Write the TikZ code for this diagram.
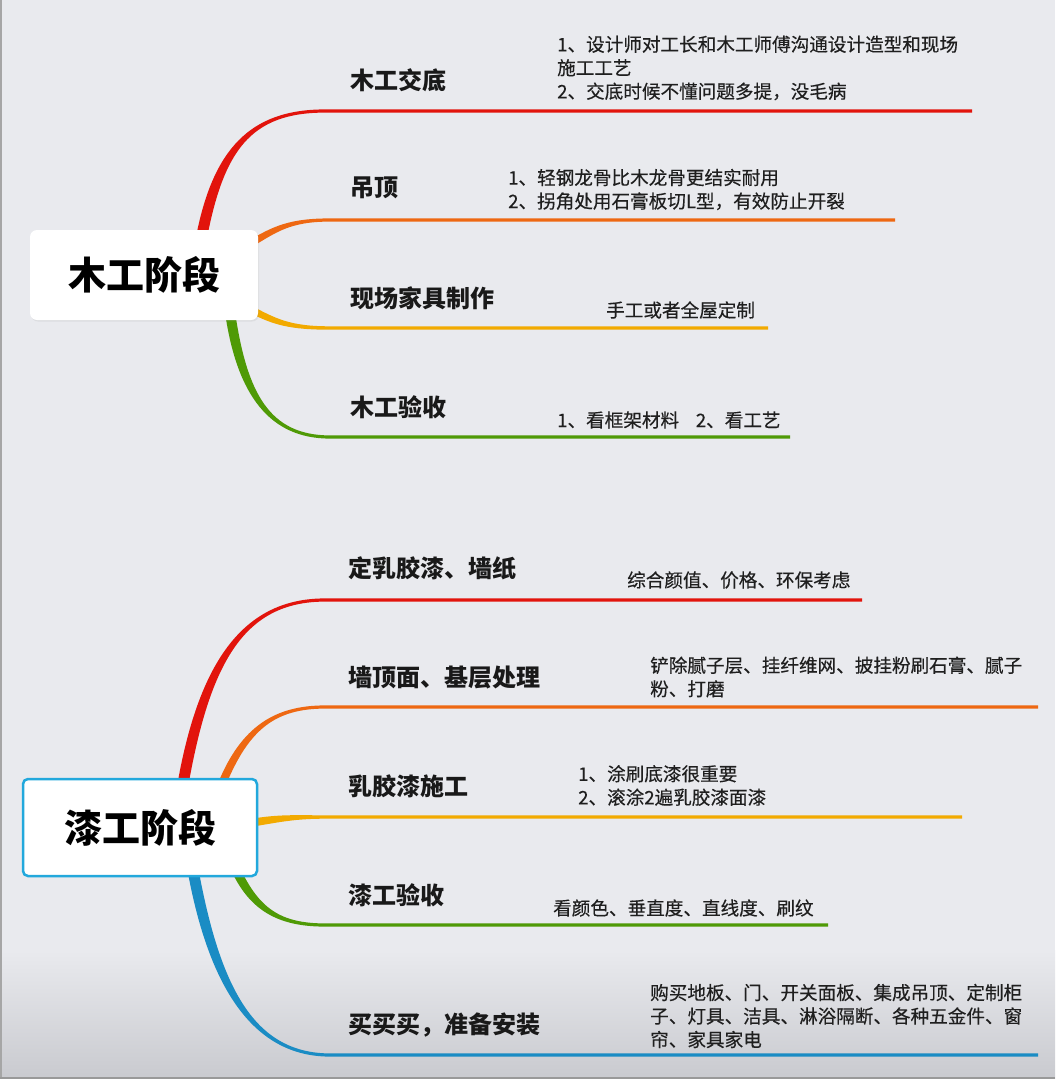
\documentclass[tikz,border=0pt]{standalone}
\usepackage{fontspec}
\setmainfont{Noto Sans CJK SC}
\newfontfamily\detfont{Noto Sans CJK SC}[FakeBold=0.35]
\usetikzlibrary{calc,shadows}
\definecolor{bg}{HTML}{E9EAEE}
\definecolor{bgdark}{HTML}{C9CACF}
\definecolor{cred}{HTML}{E2140C}
\definecolor{corange}{HTML}{EE6812}
\definecolor{cyellow}{HTML}{F2AA00}
\definecolor{cgreen}{HTML}{4F9A06}
\definecolor{cblue}{HTML}{1A8CC4}
\definecolor{ccyan}{HTML}{22A8DC}
% tapered branch: #1 colour, #2 start, #3 ctrl1, #4 ctrl2, #5 bend, #6 end, #7 half width at start, #8 half width at end
\newcommand\taperbranch[8]{%
  \fill[#1] ($(#2)!#7!90:(#3)$) .. controls ($(#3)!#7!-90:(#2)$) and ($(#4)!#8!90:(#5)$) .. ($(#5)!#8!90:(#6)$)
    -- ($(#6)!#8!-90:(#5)$) -- ($(#6)!#8!90:(#5)$) -- ($(#5)!#8!-90:(#6)$)
    .. controls ($(#4)!#8!-90:(#5)$) and ($(#3)!#7!90:(#2)$) .. ($(#2)!#7!-90:(#3)$) -- cycle;}
\begin{document}
\begin{tikzpicture}[x=1pt,y=-1pt,
  rootbox/.style={fill=white, rounded corners=7pt, inner sep=0pt, font=\fontsize{38}{44}\selectfont\bfseries},
  lbl/.style={anchor=west, inner sep=0pt, font=\fontsize{24}{28}\selectfont\bfseries, text=black!90},
  det/.style={anchor=west, inner sep=0pt, align=left, font=\detfont\fontsize{18.6}{23.5}\selectfont, text=black!88}]
\useasboundingbox (0,0) rectangle (1055,1079);
\fill[bg] (0,0) rectangle (1055,1079);
\shade[top color=bg, bottom color=bgdark] (0,950) rectangle (1055,1079);
\draw[gray!70, line width=1.5pt] (1,0) -- (1,1079);
\draw[gray!80, line width=1.5pt] (0,1078) -- (1055,1078);

% ---------- group 1 coordinates ----------
\coordinate (a1s) at (201,240); \coordinate (a1c) at (218,150); \coordinate (a1d) at (250,111); \coordinate (a1p) at (325,111); \coordinate (a1e) at (972,111);
\coordinate (a2s) at (250,244); \coordinate (a2c) at (275,229); \coordinate (a2d) at (290,220); \coordinate (a2p) at (330,220); \coordinate (a2e) at (895,220);
\coordinate (a3s) at (250,309); \coordinate (a3c) at (275,322); \coordinate (a3d) at (290,328); \coordinate (a3p) at (330,328); \coordinate (a3e) at (768,328);
\coordinate (a4s) at (230,312); \coordinate (a4c) at (242,395); \coordinate (a4d) at (270,437); \coordinate (a4p) at (330,437); \coordinate (a4e) at (790,437);

\taperbranch{cred}{a1s}{a1c}{a1d}{a1p}{a1e}{5.5pt}{1.6pt}
\taperbranch{corange}{a2s}{a2c}{a2d}{a2p}{a2e}{3.5pt}{1.6pt}
\taperbranch{cyellow}{a3s}{a3c}{a3d}{a3p}{a3e}{3.5pt}{1.7pt}
\taperbranch{cgreen}{a4s}{a4c}{a4d}{a4p}{a4e}{5pt}{1.6pt}

% ---------- group 2 coordinates ----------
\coordinate (b1s) at (183,784); \coordinate (b1c) at (205,660); \coordinate (b1d) at (245,600); \coordinate (b1p) at (325,600); \coordinate (b1e) at (862,600);
\coordinate (b2s) at (222,784); \coordinate (b2c) at (245,728); \coordinate (b2d) at (275,707); \coordinate (b2p) at (325,707); \coordinate (b2e) at (1038,707);
\coordinate (b3s) at (250,823); \coordinate (b3c) at (280,818); \coordinate (b3d) at (295,817); \coordinate (b3p) at (325,817); \coordinate (b3e) at (962,817);
\coordinate (b4s) at (236,870); \coordinate (b4c) at (255,910); \coordinate (b4d) at (280,925); \coordinate (b4p) at (325,925); \coordinate (b4e) at (828,925);
\coordinate (b5s) at (193,870); \coordinate (b5c) at (215,990); \coordinate (b5d) at (255,1055); \coordinate (b5p) at (330,1055); \coordinate (b5e) at (1038,1055);

\taperbranch{cred}{b1s}{b1c}{b1d}{b1p}{b1e}{5.5pt}{1.6pt}
\taperbranch{corange}{b2s}{b2c}{b2d}{b2p}{b2e}{4pt}{1.6pt}
\taperbranch{cyellow}{b3s}{b3c}{b3d}{b3p}{b3e}{4pt}{1.7pt}
\taperbranch{cgreen}{b4s}{b4c}{b4d}{b4p}{b4e}{4.5pt}{1.6pt}
\taperbranch{cblue}{b5s}{b5c}{b5d}{b5p}{b5e}{5.5pt}{1.6pt}

% ---------- root nodes ----------
\node[rootbox, minimum width=228pt, minimum height=90pt,
      drop shadow={opacity=0.12, shadow xshift=1pt, shadow yshift=-1.5pt}] (root1) at (144,275) {木工阶段};
\node[rootbox, draw=ccyan, line width=2.5pt, rounded corners=5pt, minimum width=234pt, minimum height=97pt] (root2) at (140,827.5) {漆工阶段};

% ---------- group 1 labels ----------
\node[lbl] (l1) at (350,80) {木工交底};
\node[lbl] (l2) at (350,188) {吊顶};
\node[lbl] (l3) at (350,298) {现场家具制作};
\node[lbl] (l4) at (350,407) {木工验收};

\node[det] (d1) at (557,68) {1、设计师对工长和木工师傅沟通设计造型和现场\\施工工艺\\2、交底时候不懂问题多提，没毛病};
\node[det] (d2) at (508,189.5) {1、轻钢龙骨比木龙骨更结实耐用\\2、拐角处用石膏板切L型，有效防止开裂};
\node[det] (d3) at (606,310) {手工或者全屋定制};
\node[det] (d4) at (557,420) {1、看框架材料\hspace{0.9em}2、看工艺};

% ---------- group 2 labels ----------
\node[lbl] (m1) at (348,568) {定乳胶漆、墙纸};
\node[lbl] (m2) at (348,677) {墙顶面、基层处理};
\node[lbl] (m3) at (348,786) {乳胶漆施工};
\node[lbl] (m4) at (348,895) {漆工验收};
\node[lbl] (m5) at (348,1025) {买买买，准备安装};

\node[det] (e1) at (627,580) {综合颜值、价格、环保考虑};
\node[det] (e2) at (650,677) {铲除腻子层、挂纤维网、披挂粉刷石膏、腻子\\粉、打磨};
\node[det] (e3) at (578,785.5) {1、涂刷底漆很重要\\2、滚涂2遍乳胶漆面漆};
\node[det] (e4) at (553,908) {看颜色、垂直度、直线度、刷纹};
\node[det] (e5) at (650,1016) {购买地板、门、开关面板、集成吊顶、定制柜\\子、灯具、洁具、淋浴隔断、各种五金件、窗\\帘、家具家电};
\end{tikzpicture}
\end{document}
